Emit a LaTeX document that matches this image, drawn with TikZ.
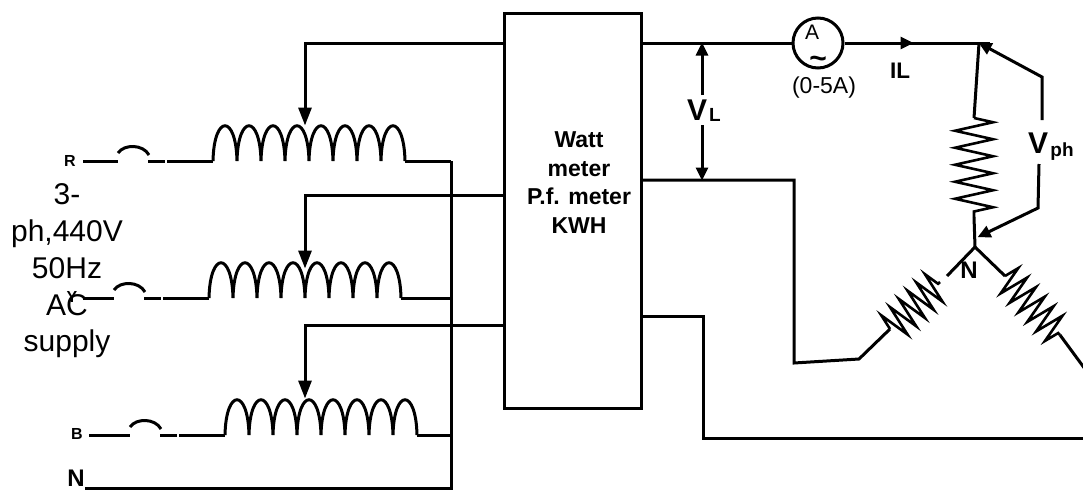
\documentclass[tikz,border=0pt]{standalone}
\usepackage{fontspec}
\setmainfont{Liberation Sans}
\usetikzlibrary{arrows.meta,decorations.pathmorphing}

\tikzset{
    wire/.style={line width=3pt},
    bigtip/.style={wire, -{Triangle[width=13pt,length=18pt]}, shorten >=-0.5pt},
    smalltip/.style={wire, -{Triangle[width=12pt,length=13pt]}, shorten >=-0.5pt},
    zig/.style 2 args={wire, line width=2.6pt, decorate, decoration={zigzag, segment length=#1, amplitude=#2}},
    coil/.pic={
        \draw[wire] (0,0) foreach \n in {0,...,7} {
            .. controls (\n*24+1,-47) and (\n*24+23,-47) .. (\n*24+24,0)};
    }
}
\newcommand{\lbl}[1]{\fontsize{#1}{#1}\selectfont\bfseries}

\begin{document}
\begin{tikzpicture}[x=1pt,y=-1pt]
    \useasboundingbox (0,0) rectangle (1083,490);

    % Supply text goes under the Y wire
    \node (ylabel) at (72,297) {\lbl{16}Y};
    \node[align=center, font=\fontsize{30}{36.7}\selectfont] (supply) at (67,271) {3-\\ph,440V\\50Hz\\AC\\supply};

    % Fuse and coil of each phase
    \coordinate (bus) at (451,161);
    \foreach \nm/\sx/\fx/\yy in {r/83/118/161, y/83/114/298, b/89/130/435} {
        \coordinate (\nm start) at (\sx,\yy);
        \coordinate (\nm fuse) at (\fx,\yy);
        \coordinate (\nm coil) at (\fx+95,\yy);
        \coordinate (\nm coilend) at (\fx+287,\yy);
        \coordinate (\nm bus) at (451,\yy);
        \draw[wire] (\nm start) -- (\nm fuse);
        \draw[wire] (\fx,\yy-8) .. controls (\fx+6,\yy-17) and (\fx+25,\yy-17) .. (\fx+31,\yy-6);
        \draw[wire] (\fx+30,\yy) -- (\fx+47,\yy);
        \draw[wire] (\fx+49,\yy) -- (\nm coil);
        \pic at (\nm coil) {coil};
        \draw[wire] (\nm coilend) -- (\nm bus);
    }
    \node (rlabel) at (70,161) {\lbl{16}R};
    \node (blabel) at (77,434) {\lbl{16}B};
    \node (nlabel) at (76,478) {\lbl{24}N};

    % Neutral
    \coordinate (nleft) at (85,488);
    \coordinate (ncorner) at (451,488);
    \draw[wire] (nleft) -- (ncorner) -- (bus);

    % Meter box
    \node[draw, line width=3pt, minimum width=137pt, minimum height=395pt, inner sep=0pt] (meter) at (572.5,210.5) {};
    \node[align=center, font=\fontsize{23}{28.7}\selectfont\bfseries] (metertext) at (579,182.5) {Watt\\meter\\P.f. meter\\KWH};

    % Tappings back to the coils
    \foreach \nm/\yy/\tip in {r/43/125, y/195/268, b/325/398} {
        \coordinate (\nm tapa) at (503,\yy);
        \coordinate (\nm tapb) at (305,\yy);
        \coordinate (\nm tip) at (305,\tip);
        \draw[bigtip] (\nm tapa) -- (\nm tapb) -- (\nm tip);
    }

    % Line with ammeter
    \node[draw, circle, line width=3pt, minimum size=50pt, inner sep=0pt] (amm) at (818,43) {};
    \node[inner sep=0pt] (ammA) at (812,32) {\fontsize{21}{21}\selectfont A};
    \node[inner sep=0pt] (ammac) at (818,62) {\lbl{30}\symbol{126}};
    \node (ammrange) at (824,88) {\fontsize{23}{23}\selectfont (0-5A)};
    \coordinate (lineout) at (641,43);
    \coordinate (iltip) at (913,43);
    \coordinate (lineend) at (990,43);
    \coordinate (junction) at (979,43);
    \draw[wire] (lineout) -- (amm);
    \draw[wire] (amm) -- (lineend);
    \draw[smalltip] (amm) -- (iltip);
    \node (iltext) at (900,71) {\lbl{22.5}IL};

    % VL
    \coordinate (vltop) at (702,43);
    \coordinate (vla) at (702,95);
    \coordinate (vlb) at (702,125);
    \coordinate (vlbot) at (702,180);
    \draw[smalltip] (vla) -- (vltop);
    \draw[smalltip] (vlb) -- (vlbot);
    \node (vltext) at (697,110) {\lbl{30}V};
    \node (vlsub) at (715,115) {\lbl{19}L};

    % Vph
    \coordinate (phaup) at (1042,120);
    \coordinate (phbup) at (1042,77);
    \coordinate (phadn) at (1039,164);
    \coordinate (phbdn) at (1038,208);
    \coordinate (phtipdn) at (978,237);
    \draw[smalltip] (phaup) -- (phbup) -- (junction);
    \draw[smalltip] (phadn) -- (phbdn) -- (phtipdn);
    \node (phtext) at (1038,143) {\lbl{30}V};
    \node (phsub) at (1062,152) {\lbl{19}ph};

    % Star connected load
    \coordinate (star) at (975,247);
    \coordinate (rtop) at (974,118);
    \coordinate (rbot) at (974,217);
    \draw[wire] (junction) -- (rtop);
    \draw[zig={17}{19}] (rtop) -- (rbot);
    \draw[wire] (rbot) -- (star);
    \node (starn) at (969,270) {\lbl{24}N};

    \coordinate (yout) at (641,180);
    \coordinate (ycorner) at (794,180);
    \coordinate (ylow) at (794,363);
    \coordinate (ybend) at (859,359);
    \coordinate (yres) at (890,329);
    \coordinate (yresend) at (940,282);
    \coordinate (ystub) at (947,276);
    \draw[wire] (yout) -- (ycorner) -- (ylow) -- (ybend) -- (yres);
    \draw[zig={12}{16}] (yres) -- (yresend);

    \coordinate (bres) at (1005,276);
    \coordinate (bresend) at (1060,335);
    \coordinate (bexit) at (1085,369);
    \draw[wire] (ystub) -- (star) -- (bres);
    \draw[zig={13}{15}] (bres) -- (bresend);
    \draw[wire] (bresend) -- (bexit);

    \coordinate (bout) at (641,316);
    \coordinate (bcorner) at (703,316);
    \coordinate (blow) at (703,438);
    \coordinate (bright) at (1085,438);
    \draw[wire] (bout) -- (bcorner) -- (blow) -- (bright);
\end{tikzpicture}
\end{document}
